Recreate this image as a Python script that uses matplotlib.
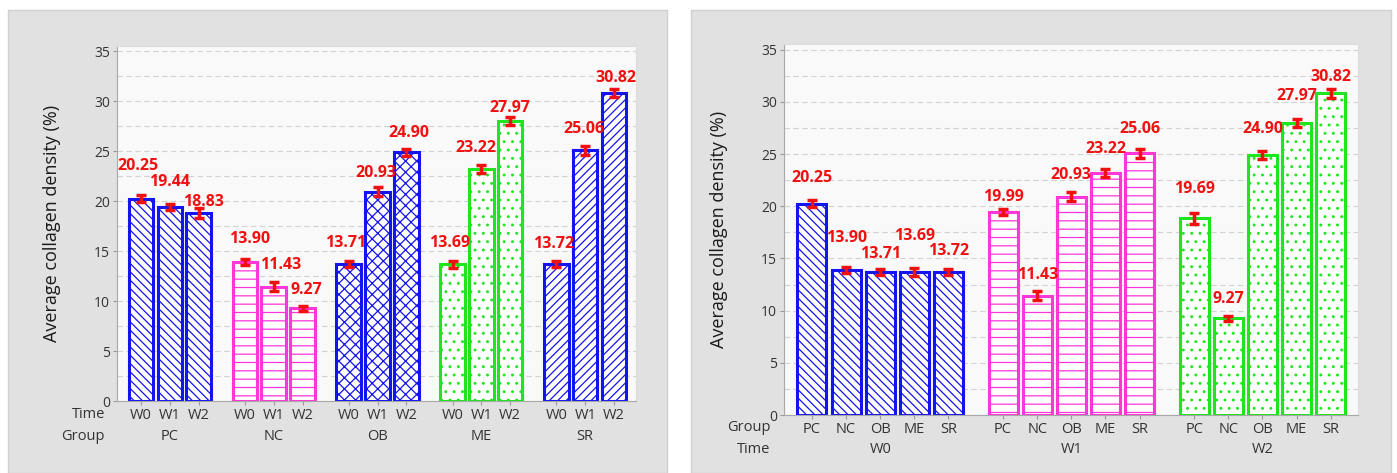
import matplotlib.pyplot as plt
from matplotlib.patches import Rectangle
import numpy as np

plt.rcParams['font.family'] = ['Open Sans', 'DejaVu Sans']
plt.rcParams['hatch.linewidth'] = 0.9

groups = ['PC', 'NC', 'OB', 'ME', 'SR']
times = ['W0', 'W1', 'W2']

# mean collagen density (%) per group, at W0, W1, W2
pc = [20.25, 19.44, 18.83]
nc = [13.90, 11.43, 9.27]
ob = [13.71, 20.93, 24.90]
me = [13.69, 23.22, 27.97]
sr = [13.72, 25.06, 30.82]

# error bars
pc_err = [0.35, 0.3, 0.5]
nc_err = [0.3, 0.45, 0.25]
ob_err = [0.3, 0.45, 0.35]
me_err = [0.35, 0.4, 0.4]
sr_err = [0.3, 0.45, 0.4]

# value labels as printed in the right-hand panel
labels_w0 = ['20.25', '13.90', '13.71', '13.69', '13.72']
labels_w1 = ['19.99', '11.43', '20.93', '23.22', '25.06']
labels_w2 = ['19.69', '9.27', '24.90', '27.97', '30.82']

means = np.array([pc, nc, ob, me, sr])
errs = np.array([pc_err, nc_err, ob_err, me_err, sr_err])

BLUE = '#1414f0'
PINK = '#ff36d8'
GREEN = '#1ee61e'
RED = '#f01010'
TXT = '#333333'

W, H = 1397, 473
fig = plt.figure(figsize=(W / 100, H / 100), dpi=100)
fig.patch.set_facecolor('white')

# grey panels behind each chart
for x0, x1 in [(8, 667), (691, 1391)]:
    fig.patches.append(Rectangle((x0 / W, 0), (x1 - x0) / W, 1 - 10 / H,
                                 transform=fig.transFigure, facecolor='#e1e1e1',
                                 edgecolor='#d0d0d0', lw=1, zorder=-10))


def style_axes(ax):
    ax.set_facecolor('#f9f9f9')
    ax.set_ylim(0, 35.55)
    ax.set_yticks(np.arange(0, 36, 5))
    ax.set_yticks(np.arange(0, 36, 2.5), minor=True)
    ax.grid(axis='y', which='both', linestyle=(0, (5, 3)), color='#d2d2d2', lw=0.8)
    ax.set_axisbelow(True)
    ax.tick_params(axis='y', which='minor', length=0)
    ax.tick_params(axis='y', which='major', length=3, color='#999999', labelsize=10,
                   labelcolor=TXT, pad=2)
    ax.tick_params(axis='x', length=3, color='#999999', labelsize=10.5,
                   labelcolor=TXT, pad=2)
    for s in ['left', 'bottom']:
        ax.spines[s].set_color('#a8a8a8')
    for s in ['top', 'right']:
        ax.spines[s].set_color('#dddddd')
    ax.set_ylabel('Average collagen density (%)', fontsize=13, color='#1a1a1a',
                  labelpad=24)


bar_w = 0.85
label_kw = dict(ha='center', va='center', color=RED, fontsize=11.5, fontweight='bold')
err_kw = dict(ecolor=RED, elinewidth=2.5, capsize=3.5, capthick=2.5)

# ---- left: grouped by treatment group ----
axl = fig.add_axes([117 / W, 1 - 401 / H, 519 / W, 355.5 / H])
style_axes(axl)
step_l = 3.6
group_hatch = ['\\\\\\\\', '--', 'xxx', '..', '////']
group_col = [BLUE, PINK, BLUE, GREEN, BLUE]
lift_l = [[3.25, 2.45, 1.1], [2.3, 2.15, 1.85], [2.1, 1.85, 1.9],
          [2.1, 2.1, 1.35], [2.0, 2.15, 1.5]]
shift_l = [[-0.1, 0, 0.15], [0.15, 0.25, 0.15], [-0.1, -0.05, 0.1],
           [-0.1, -0.2, 0], [-0.1, -0.05, 0.05]]
xs_l = []
for g in range(len(groups)):
    xs = g * step_l + np.arange(len(times))
    xs_l.extend(xs)
    axl.bar(xs, means[g], width=bar_w, facecolor='white', edgecolor=group_col[g],
            hatch=group_hatch[g], linewidth=2.2, zorder=2)
    axl.errorbar(xs, means[g], yerr=errs[g], fmt='none', zorder=3, **err_kw)
    for i in range(len(times)):
        axl.text(xs[i] + shift_l[g][i], means[g][i] + lift_l[g][i], '%.2f' % means[g][i],
                 zorder=4, **label_kw)
    axl.text(g * step_l + 1, -0.099, groups[g], transform=axl.get_xaxis_transform(),
             ha='center', va='center', fontsize=10.5, color=TXT)
axl.set_xticks(xs_l)
axl.set_xticklabels(times * len(groups))
axl.set_xlim(-0.83, 4 * step_l + 2 + 0.76)
axl.text(-0.023, -0.037, 'Time', transform=axl.transAxes, ha='right', va='center',
         fontsize=10.5, color=TXT)
axl.text(-0.023, -0.099, 'Group', transform=axl.transAxes, ha='right', va='center',
         fontsize=10.5, color=TXT)

# ---- right: grouped by time point ----
axr = fig.add_axes([784 / W, 1 - 415 / H, 574 / W, 371 / H])
style_axes(axr)
step_r = 5.6
time_hatch = ['\\\\\\\\', '--', '..']
time_col = [BLUE, PINK, GREEN]
time_labels = [labels_w0, labels_w1, labels_w2]
lift_r = [[2.45, 3.1, 1.7, 3.5, 2.0], [1.45, 2.0, 2.1, 2.3, 2.35],
          [2.8, 1.8, 2.5, 2.6, 1.6]]
xs_r = []
for t in range(len(times)):
    xs = t * step_r + np.arange(len(groups))
    xs_r.extend(xs)
    vals = means[:, t]
    axr.bar(xs, vals, width=bar_w, facecolor='white', edgecolor=time_col[t],
            hatch=time_hatch[t], linewidth=2.2, zorder=2)
    axr.errorbar(xs, vals, yerr=errs[:, t], fmt='none', zorder=3, **err_kw)
    for j in range(len(groups)):
        axr.text(xs[j], vals[j] + lift_r[t][j], time_labels[t][j], zorder=4, **label_kw)
    axr.text(t * step_r + 2, -0.092, times[t], transform=axr.get_xaxis_transform(),
             ha='center', va='center', fontsize=10.5, color=TXT)
axr.set_xticks(xs_r)
axr.set_xticklabels(groups * len(times))
axr.set_xlim(-0.82, 2 * step_r + 4 + 0.8)
axr.text(-0.024, -0.035, 'Group', transform=axr.transAxes, ha='right', va='center',
         fontsize=10.5, color=TXT)
axr.text(-0.024, -0.092, 'Time', transform=axr.transAxes, ha='right', va='center',
         fontsize=10.5, color=TXT)

fig.savefig('out.png', dpi=100, facecolor='white')
